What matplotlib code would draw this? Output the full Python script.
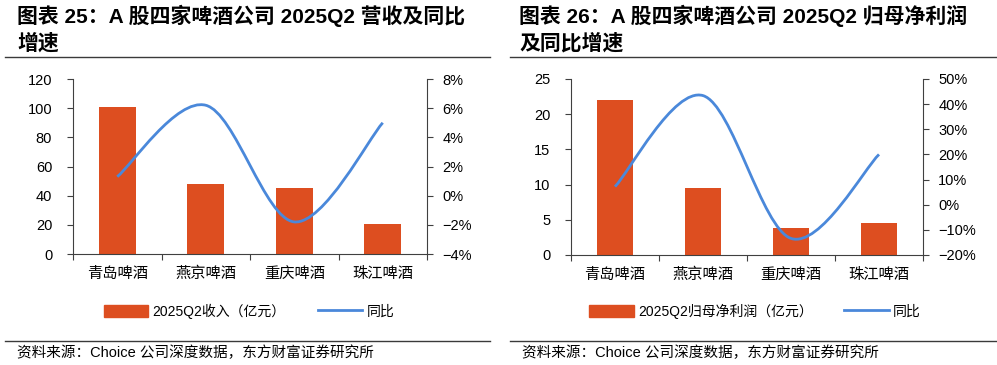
import matplotlib
matplotlib.use('Agg')
import matplotlib.pyplot as plt
from matplotlib.path import Path
from matplotlib.patches import PathPatch, Patch
from matplotlib.lines import Line2D
from matplotlib.ticker import FixedLocator, FuncFormatter

# Data
companies = ['青岛啤酒', '燕京啤酒', '重庆啤酒', '珠江啤酒']
revenue = [100.8, 47.8, 45.3, 20.3]          # 2025Q2 revenue, 亿元
revenue_yoy = [1.3, 6.2, -1.8, 5.0]          # %
profit = [22.0, 9.5, 3.9, 4.6]               # 2025Q2 net profit attributable, 亿元
profit_yoy = [7.2, 43.4, -13.4, 20.0]        # %

BAR_COLOR = '#DD4E20'
LINE_COLOR = '#4A88DA'
AXIS_COLOR = '#404040'
CJK = ['Noto Sans CJK SC', 'DejaVu Sans']
NUM = ['Liberation Sans', 'Noto Sans CJK SC']

W, H = 997, 365
fig = plt.figure(figsize=(W / 100, H / 100), dpi=100)


def fx(px):
    return px / W


def fy(py):
    return 1 - py / H


# Smooth curve through the points (Catmull-Rom as cubic Bezier segments)
def smooth_path(xs, ys):
    pts = list(zip(xs, ys))
    verts = [pts[0]]
    codes = [Path.MOVETO]
    n = len(pts)
    for i in range(n - 1):
        p0 = pts[i - 1] if i > 0 else pts[i]
        p1 = pts[i]
        p2 = pts[i + 1]
        p3 = pts[i + 2] if i + 2 < n else pts[i + 1]
        c1 = (p1[0] + (p2[0] - p0[0]) / 6, p1[1] + (p2[1] - p0[1]) / 6)
        c2 = (p2[0] - (p3[0] - p1[0]) / 6, p2[1] - (p3[1] - p1[1]) / 6)
        verts += [c1, c2, p2]
        codes += [Path.CURVE4] * 3
    return Path(verts, codes)


def pct(v, pos):
    s = f'{abs(v):.0f}%'
    return ('\u2212' + s) if v < 0 else s


def panel(left, right, top, bottom, bars, yoy, ylim, yticks, y2lim, y2ticks,
          title1, title2, bar_label, legend_cx, title_x, rule_x):
    ax = fig.add_axes([fx(left), fy(bottom), fx(right - left), (bottom - top) / H])
    x = list(range(len(companies)))
    ax.bar(x, bars, width=0.42, color=BAR_COLOR, zorder=2)
    ax.set_xlim(-0.5, len(companies) - 0.5)
    ax.set_ylim(*ylim)
    ax.set_yticks(yticks)
    ax.set_xticks(x)
    ax.set_xticklabels(companies, fontfamily=CJK, fontsize=11)
    ax.xaxis.set_minor_locator(FixedLocator([i - 0.5 for i in range(len(companies) + 1)]))
    ax.tick_params(axis='x', which='major', length=0, pad=8)
    ax.tick_params(axis='x', which='minor', length=4, color=AXIS_COLOR, width=0.8)
    ax.tick_params(axis='y', length=4, color=AXIS_COLOR, width=0.8, pad=11, labelsize=10.5)
    for lab in ax.get_yticklabels():
        lab.set_fontfamily(NUM)
    for s in ['top', 'right']:
        ax.spines[s].set_visible(False)
    for s in ['left', 'bottom']:
        ax.spines[s].set_color(AXIS_COLOR)
        ax.spines[s].set_linewidth(0.8)

    ax2 = ax.twinx()
    ax2.set_ylim(*y2lim)
    ax2.set_yticks(y2ticks)
    ax2.yaxis.set_major_formatter(FuncFormatter(pct))
    ax2.tick_params(axis='y', length=4, color=AXIS_COLOR, width=0.8, pad=7, labelsize=10.5)
    for lab in ax2.get_yticklabels():
        lab.set_fontfamily(NUM)
    for s in ['top', 'left', 'bottom']:
        ax2.spines[s].set_visible(False)
    ax2.spines['right'].set_color(AXIS_COLOR)
    ax2.spines['right'].set_linewidth(0.8)
    ax2.add_patch(PathPatch(smooth_path(x, yoy), fill=False, edgecolor=LINE_COLOR,
                            linewidth=2, zorder=3))

    handles = [Patch(color=BAR_COLOR), Line2D([], [], color=LINE_COLOR, linewidth=2)]
    fig.legend(handles, [bar_label, '同比'], loc='center', ncol=2, frameon=False,
               bbox_to_anchor=(fx(legend_cx), fy(311)), prop={'family': NUM, 'size': 10},
               handlelength=3.2, handleheight=1.0, handletextpad=0.3, columnspacing=2.3)

    fig.text(fx(title_x), fy(16), title1, fontfamily=NUM, fontweight='bold',
             fontsize=15, va='center', ha='left')
    fig.text(fx(title_x), fy(43), title2, fontfamily=NUM, fontweight='bold',
             fontsize=15, va='center', ha='left')
    fig.add_artist(Line2D([fx(rule_x[0]), fx(rule_x[1])], [fy(57), fy(57)],
                          color='#3a3a3a', linewidth=1))
    fig.add_artist(Line2D([fx(rule_x[0]), fx(rule_x[1])], [fy(341), fy(341)],
                          color='#3a3a3a', linewidth=1))
    fig.text(fx(rule_x[0] + 12), fy(353), '资料来源：Choice 公司深度数据，东方财富证券研究所',
             fontfamily=NUM, fontsize=10.5, va='center', ha='left')


panel(73, 427, 79, 254, revenue, revenue_yoy, (0, 120), range(0, 121, 20),
      (-4, 8), range(-4, 9, 2),
      '图表 25：A 股四家啤酒公司 2025Q2 营收及同比', '增速',
      '2025Q2收入（亿元）', 249, 17, (5, 490))
panel(571, 923, 79, 255, profit, profit_yoy, (0, 25), range(0, 26, 5),
      (-20, 50), range(-20, 51, 10),
      '图表 26：A 股四家啤酒公司 2025Q2 归母净利润', '及同比增速',
      '2025Q2归母净利润（亿元）', 755, 519, (510, 997))

fig.savefig('out.png', dpi=100)
